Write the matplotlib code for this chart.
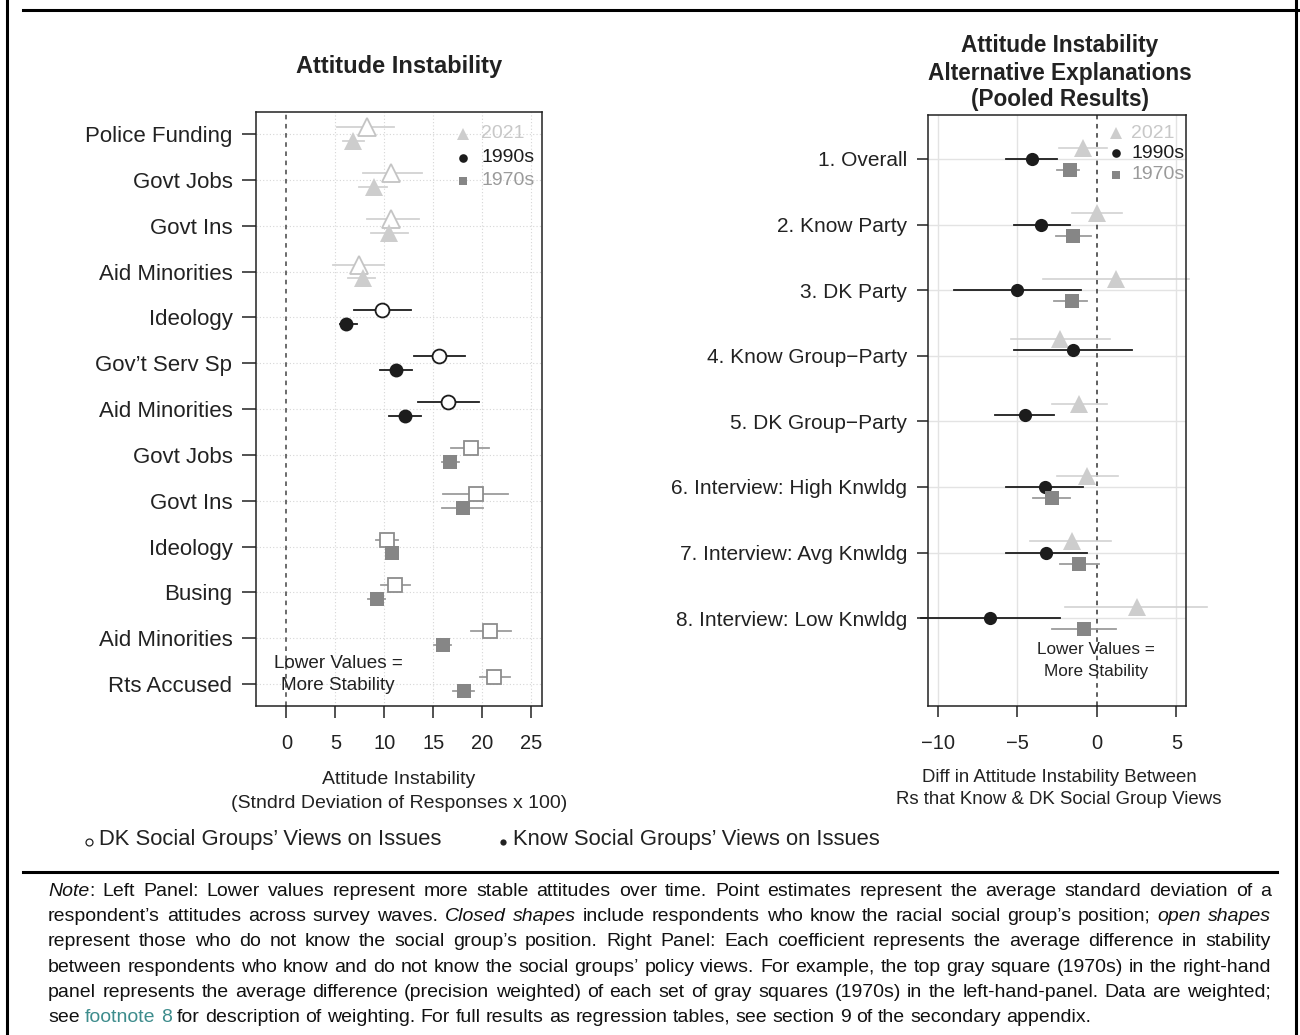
import numpy as np
import matplotlib
matplotlib.use("Agg")
import matplotlib.pyplot as plt
from matplotlib.lines import Line2D

plt.rcParams['font.family'] = ['Liberation Sans', 'DejaVu Sans']

W, H = 1300, 1035

# ---- left panel: attitude instability by issue ----
left_labels = ["Police Funding", "Govt Jobs", "Govt Ins", "Aid Minorities",
               "Ideology", "Gov\u2019t Serv Sp", "Aid Minorities",
               "Govt Jobs", "Govt Ins", "Ideology", "Busing",
               "Aid Minorities", "Rts Accused"]
left_era = ["2021"] * 4 + ["1990s"] * 3 + ["1970s"] * 6

# respondents who don't know the social groups' views (open shapes)
dk_est = [8.2, 10.7, 10.7, 7.4, 9.8, 15.6, 16.5, 18.8, 19.4, 10.3, 11.1, 20.8, 21.2]
dk_lo = [5.2, 7.8, 8.2, 4.8, 6.9, 13.0, 13.4, 16.8, 16.0, 9.2, 9.7, 18.8, 19.8]
dk_hi = [11.0, 13.8, 13.5, 10.0, 12.7, 18.2, 19.7, 20.7, 22.6, 11.4, 12.6, 22.9, 22.8]

# respondents who know the social groups' views (closed shapes)
kn_est = [6.8, 8.9, 10.5, 7.8, 6.1, 11.2, 12.1, 16.7, 18.0, 10.8, 9.3, 16.0, 18.1]
kn_lo = [5.8, 7.4, 8.6, 6.3, 5.5, 9.6, 10.5, 15.9, 15.9, 10.4, 8.3, 15.1, 17.0]
kn_hi = [7.9, 10.3, 12.4, 9.0, 7.2, 12.8, 13.7, 17.6, 20.1, 11.2, 10.1, 16.8, 19.2]

# ---- right panel: pooled differences ----
right_labels = ["1. Overall", "2. Know Party", "3. DK Party",
                "4. Know Group\u2212Party", "5. DK Group\u2212Party",
                "6. Interview: High Knwldg", "7. Interview: Avg Knwldg",
                "8. Interview: Low Knwldg"]
nan = np.nan
r2021_est = [-0.9, 0.0, 1.2, -2.3, -1.1, -0.6, -1.6, 2.5]
r2021_lo = [-2.4, -1.6, -3.4, -5.4, -2.8, -2.5, -4.2, -2.0]
r2021_hi = [0.6, 1.6, 5.8, 0.8, 0.6, 1.3, 0.9, 6.9]
r1990_est = [-4.1, -3.5, -5.0, -1.5, -4.5, -3.3, -3.2, -6.7]
r1990_lo = [-5.7, -5.2, -9.0, -5.2, -6.4, -5.7, -5.7, -11.1]
r1990_hi = [-2.5, -1.7, -1.0, 2.2, -2.7, -0.9, -0.6, -2.3]
r1970_est = [-1.7, -1.5, -1.6, nan, nan, -2.8, -1.1, -0.8]
r1970_lo = [-2.5, -2.6, -2.7, nan, nan, -4.0, -2.3, -2.8]
r1970_hi = [-1.1, -0.4, -0.6, nan, nan, -1.7, 0.1, 1.2]

eras = ["2021", "1990s", "1970s"]
style = {
    "2021": dict(marker="^", ms=13, fill="#cdcdcd", edge="#c4c4c4", line="#d2d2d2", text="#c8c8c8"),
    "1990s": dict(marker="o", ms=10, fill="#1c1c1c", edge="#1c1c1c", line="#1c1c1c", text="#1c1c1c"),
    "1970s": dict(marker="s", ms=10, fill="#868686", edge="#8c8c8c", line="#9c9c9c", text="#9a9a9a"),
}
DARK = "#222222"


def fx(px):
    return px / W


def fy(py):
    return 1 - py / H


def style_axes(ax):
    for sp in ax.spines.values():
        sp.set_color(DARK)
        sp.set_linewidth(1.1)
    ax.set_facecolor("white")


fig = plt.figure(figsize=(W / 100, H / 100), dpi=100)

# ---------------- left panel ----------------
axl = fig.add_axes([fx(256), fy(706), fx(542 - 256), (706 - 112) / H])
style_axes(axl)
rows = np.arange(1, len(left_labels) + 1)
axl.set_xlim(-3.1, 26.1)
axl.set_ylim(13.48, 0.52)
for x in [5, 10, 15, 20, 25]:
    axl.axvline(x, color="#d6d6d6", lw=0.8, ls=(0, (1, 2)), zorder=0)
for r in rows:
    axl.axhline(r, color="#d6d6d6", lw=0.8, ls=(0, (1, 2)), zorder=0)
axl.axvline(0, color="#444444", lw=1.1, ls=(0, (3, 3)), zorder=1)

for i, r in enumerate(rows):
    s = style[left_era[i]]
    # open shape: DK group views
    axl.plot([dk_lo[i], dk_hi[i]], [r - 0.15] * 2, color=s["line"], lw=1.3, zorder=2)
    axl.plot(dk_est[i], r - 0.15, marker=s["marker"], ms=s["ms"], mfc="white",
             mec=s["edge"], mew=1.3, zorder=3)
    # closed shape: know group views
    axl.plot([kn_lo[i], kn_hi[i]], [r + 0.15] * 2, color=s["line"], lw=1.3, zorder=2)
    axl.plot(kn_est[i], r + 0.15, marker=s["marker"], ms=s["ms"], mfc=s["fill"],
             mew=0, zorder=3)

axl.set_yticks(rows)
axl.set_yticklabels(left_labels)
axl.set_xticks([0, 5, 10, 15, 20, 25])
axl.tick_params(axis="y", length=10, width=1.1, pad=7, labelsize=16, colors=DARK)
axl.tick_params(axis="x", length=8.5, width=1.1, pad=12, labelsize=14.5, colors=DARK)

for k, (era, yy) in enumerate(zip(eras, [0.963, 0.923, 0.884])):
    s = style[era]
    axl.plot(0.724, yy, transform=axl.transAxes, marker=s["marker"],
             ms=s["ms"] * 0.62, mfc=s["fill"], mew=0, clip_on=False)
    axl.text(0.787, yy, era, transform=axl.transAxes, color=s["text"],
             fontsize=14, va="center", ha="left")

axl.text(0.287, 0.072, "Lower Values =", transform=axl.transAxes,
         fontsize=13.6, ha="center", va="center", color=DARK)
axl.text(0.287, 0.034, "More Stability", transform=axl.transAxes,
         fontsize=13.6, ha="center", va="center", color=DARK)

fig.text(fx(399), fy(73), "Attitude Instability", fontsize=17,
         fontweight="bold", ha="center", va="baseline", color=DARK)
fig.text(fx(399), fy(779), "Attitude Instability", fontsize=14,
         ha="center", va="center", color=DARK)
fig.text(fx(399), fy(803), "(Stndrd Deviation of Responses x 100)", fontsize=14,
         ha="center", va="center", color=DARK)

# ---------------- right panel ----------------
axr = fig.add_axes([fx(928), fy(706), fx(1186 - 928), (706 - 115) / H])
style_axes(axr)
rrows = np.arange(1, len(right_labels) + 1)
axr.set_xlim(-10.63, 5.6)
axr.set_ylim(9.34, 0.33)
for x in [-10, -5, 5]:
    axr.axvline(x, color="#e3e3e3", lw=1.0, zorder=0)
for r in rrows:
    axr.axhline(r, color="#e3e3e3", lw=1.0, zorder=0)
axr.axvline(0, color="#333333", lw=1.1, ls=(0, (3, 3)), zorder=1)

series = [("2021", r2021_est, r2021_lo, r2021_hi),
          ("1990s", r1990_est, r1990_lo, r1990_hi),
          ("1970s", r1970_est, r1970_lo, r1970_hi)]
for i, r in enumerate(rrows):
    shift = 0.0 if not np.isnan(r1970_est[i]) else -0.09
    for j, (era, est, lo, hi) in enumerate(series):
        if np.isnan(est[i]):
            continue
        s = style[era]
        yy = r + shift + (j - 1) * 0.17
        lw = 1.2 if era == "2021" else 1.3
        axr.plot([lo[i], hi[i]], [yy, yy], color=s["line"], lw=lw, zorder=2,
                 clip_on=False)
        axr.plot(est[i], yy, marker=s["marker"], ms=s["ms"] * 0.95,
                 mfc=s["fill"], mew=0, zorder=3)

axr.set_yticks(rrows)
axr.set_yticklabels(right_labels)
axr.set_xticks([-10, -5, 0, 5])
axr.tick_params(axis="y", length=8, width=1.1, pad=7, labelsize=15, colors=DARK)
axr.tick_params(axis="x", length=8, width=1.1, pad=12, labelsize=14.5, colors=DARK)

for era, yy in zip(eras, [0.9695, 0.9357, 0.8985]):
    s = style[era]
    axr.plot(0.729, yy, transform=axr.transAxes, marker=s["marker"],
             ms=s["ms"] * 0.62, mfc=s["fill"], mew=0, clip_on=False)
    axr.text(0.787, yy, era, transform=axr.transAxes, color=s["text"],
             fontsize=14, va="center", ha="left")

axr.text(0.651, 0.095, "Lower Values =", transform=axr.transAxes,
         fontsize=12.3, ha="center", va="center", color=DARK)
axr.text(0.651, 0.059, "More Stability", transform=axr.transAxes,
         fontsize=12.3, ha="center", va="center", color=DARK)

for txt, base in zip(["Attitude Instability", "Alternative Explanations",
                      "(Pooled Results)"], [52, 80, 106]):
    fig.text(fx(1060), fy(base), txt, fontsize=16.3, fontweight="bold",
             ha="center", va="baseline", color=DARK)
fig.text(fx(1059), fy(777), "Diff in Attitude Instability Between", fontsize=13.4,
         ha="center", va="center", color=DARK)
fig.text(fx(1059), fy(800), "Rs that Know & DK Social Group Views", fontsize=13.4,
         ha="center", va="center", color=DARK)

# ---------------- shared key under the panels ----------------
fig.add_artist(Line2D([fx(89)], [fy(842)], marker="o", ms=5, mfc="white",
                      mec=DARK, mew=0.9, transform=fig.transFigure))
fig.text(fx(99), fy(839), "DK Social Groups\u2019 Views on Issues", fontsize=15.8,
         ha="left", va="center", color=DARK)
fig.add_artist(Line2D([fx(503)], [fy(842)], marker="o", ms=4.5, mfc=DARK,
                      mew=0, transform=fig.transFigure))
fig.text(fx(513), fy(839), "Know Social Groups\u2019 Views on Issues", fontsize=15.8,
         ha="left", va="center", color=DARK)

# frame rules
for xs, ys, lw in [([7, 7], [0, H], 2.2), ([W - 4, W - 4], [0, H], 2.2),
                   ([23, W], [10, 10], 2.2), ([23, 1277], [872, 872], 2.2)]:
    fig.add_artist(Line2D([fx(v) for v in xs], [fy(v) for v in ys], color="black",
                          lw=lw, transform=fig.transFigure))

# ---------------- note, justified ----------------
NOTE = [
    [("Note", "i"), (": Left Panel: Lower values represent more stable attitudes over time. "
                     "Point estimates represent the average standard deviation of a", "n")],
    [("respondent\u2019s attitudes across survey waves. ", "n"), ("Closed shapes", "i"),
     (" include respondents who know the racial social group\u2019s position; ", "n"),
     ("open shapes", "i")],
    [("represent those who do not know the social group\u2019s position. Right Panel: Each "
      "coefficient represents the average difference in stability", "n")],
    [("between respondents who know and do not know the social groups\u2019 policy views. "
      "For example, the top gray square (1970s) in the right-hand", "n")],
    [("panel represents the average difference (precision weighted) of each set of gray "
      "squares (1970s) in the left-hand-panel. Data are weighted;", "n")],
    [("see ", "n"), ("footnote 8", "link"), (" for description of weighting. For full results "
                                            "as regression tables, see section 9 of the "
                                            "secondary appendix.", "n")],
]
note_size = 14.0
props = {
    "n": dict(fontsize=note_size, color="#111111"),
    "i": dict(fontsize=note_size, color="#111111", style="italic"),
    "link": dict(fontsize=note_size, color="#3d8c8c"),
}

renderer = fig.canvas.get_renderer()


def text_width(s, kind):
    t = fig.text(0, 0, s, **props[kind])
    w = t.get_window_extent(renderer).width
    t.remove()
    return w


space_w = text_width("a a", "n") - text_width("aa", "n")


def split_words(runs):
    # words made of styled segments; a space ends a word
    words, cur = [], []
    for s, kind in runs:
        parts = s.split(" ")
        for k, p in enumerate(parts):
            if k > 0:
                if cur:
                    words.append(cur)
                cur = []
            if p:
                cur.append((p, kind))
    if cur:
        words.append(cur)
    return words


x_left, x_right = 48, 1271
for n, runs in enumerate(NOTE):
    base = 896 + n * 25.2
    words = split_words(runs)
    widths = [sum(text_width(p, k) for p, k in w) for w in words]
    last = n == len(NOTE) - 1
    gap = space_w if last else (x_right - x_left - sum(widths)) / (len(words) - 1)
    x = x_left
    for w, ww in zip(words, widths):
        xx = x
        for p, k in w:
            fig.text(fx(xx), fy(base), p, ha="left", va="baseline", **props[k])
            xx += text_width(p, k)
        x += ww + gap

fig.savefig("out.png", dpi=100)
